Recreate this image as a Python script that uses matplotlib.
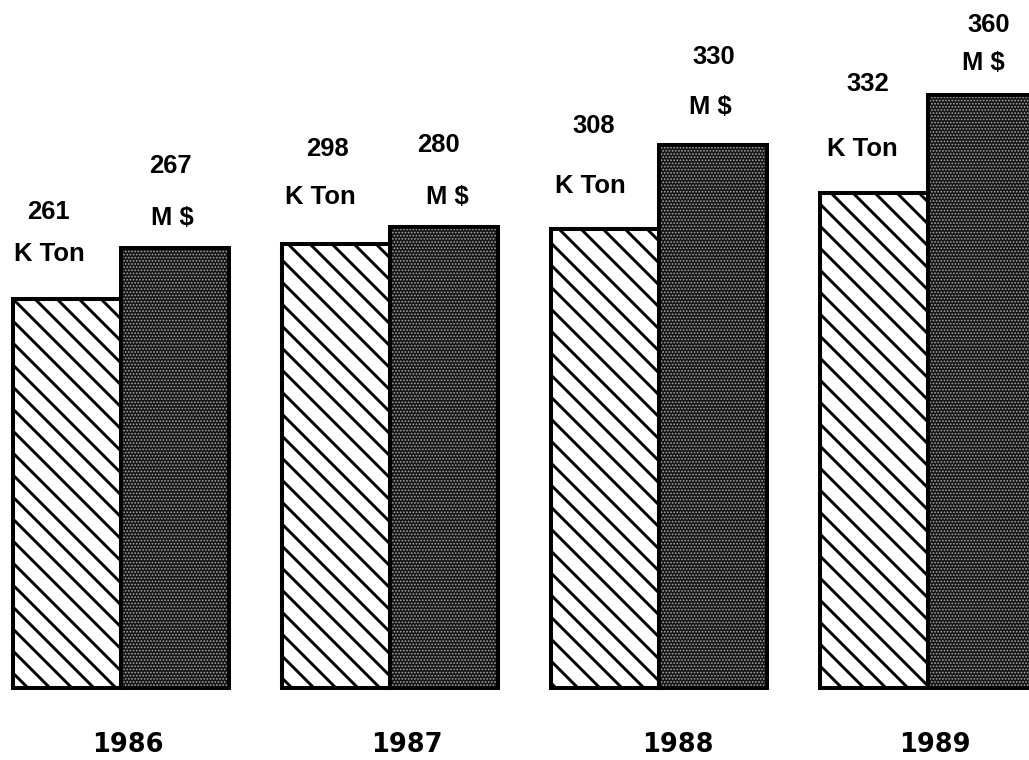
import numpy as np
import matplotlib
matplotlib.use('Agg')
import matplotlib.pyplot as plt

# production (thousand tons) and value (million $) per year
years = ['1986', '1987', '1988', '1989']
tons = [261, 298, 308, 332]
value = [267, 280, 330, 360]

# label offsets from the top of each bar, in pixels (dx, dy)
ton_num_off = [(-19, 87), (-9, 95), (-12, 103), (-7, 109)]
ton_unit_off = [(-18, 45), (-16, 47), (-15, 43), (-12, 44)]
val_num_off = [(-5, 83), (-6, 83), (0, 88), (6, 71)]
val_unit_off = [(-3, 31), (3, 31), (-3, 38), (1, 33)]
year_off = [7, 17, 19, 6]

dpi = 132
px = 72 / dpi  # one pixel in points
plt.rcParams['hatch.linewidth'] = 1.6

fig = plt.figure(figsize=(1029.5 / dpi, 760.5 / dpi), dpi=dpi)
ax1 = fig.add_axes([0, 0, 1, 1])
ax2 = ax1.twinx()

x = np.arange(len(years))
w = 108 / 269
label_font = dict(family='Liberation Sans', weight='bold', size=14)

# hatched bars: tons
ax1.bar(x - w / 2, tons, w, facecolor='white', edgecolor='black',
        linewidth=2.2, hatch='\\\\', zorder=2)

# stippled bars: value
ax2.bar(x + w / 2, value, w, facecolor='#161616', edgecolor='none',
        linewidth=0, zorder=2)
with plt.rc_context({'hatch.linewidth': 0.6}):
    ax2.bar(x + w / 2, value, w, fill=False, edgecolor='#a6a6a6',
            linewidth=0, hatch='.......', zorder=3)
ax2.bar(x + w / 2, value, w, fill=False, edgecolor='black',
        linewidth=2.2, zorder=4)

for i in range(len(years)):
    ax1.annotate(str(tons[i]), (x[i] - w / 2, tons[i]),
                 xytext=(ton_num_off[i][0] * px, ton_num_off[i][1] * px),
                 textcoords='offset points', ha='center', va='center', **label_font)
    ax1.annotate('K Ton', (x[i] - w / 2, tons[i]),
                 xytext=(ton_unit_off[i][0] * px, ton_unit_off[i][1] * px),
                 textcoords='offset points', ha='center', va='center', **label_font)
    ax2.annotate(str(value[i]), (x[i] + w / 2, value[i]),
                 xytext=(val_num_off[i][0] * px, val_num_off[i][1] * px),
                 textcoords='offset points', ha='center', va='center', **label_font)
    ax2.annotate('M $', (x[i] + w / 2, value[i]),
                 xytext=(val_unit_off[i][0] * px, val_unit_off[i][1] * px),
                 textcoords='offset points', ha='center', va='center', **label_font)
    ax1.annotate(years[i], (x[i], 0), xytext=(year_off[i] * px, -57 * px),
                 textcoords='offset points', ha='center', va='center',
                 family='DejaVu Sans', weight='bold', size=14)

# two independent vertical scales, same baseline
base = 72
ax1.set_ylim(-base / 1.49, (760 - base) / 1.49)
ax2.set_ylim(-base / 1.645, (760 - base) / 1.645)
ax1.set_xlim(-121 / 269, (1029 - 121) / 269)
ax1.axis('off')
ax2.axis('off')

fig.savefig('out.png', dpi=dpi, facecolor='white')
